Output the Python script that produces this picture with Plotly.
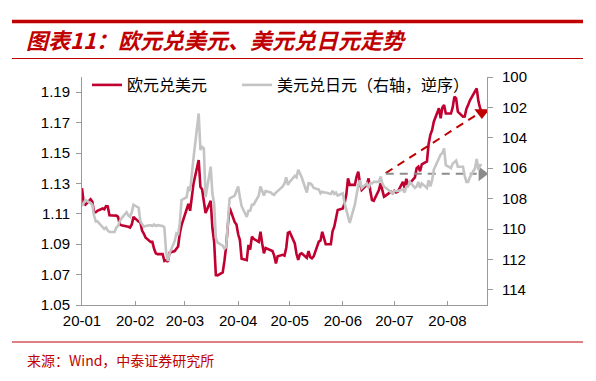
import pandas as pd
import plotly.graph_objects as go

# ---------------- data ----------------
DATES = pd.bdate_range("2020-01-01", "2020-08-21")

EURUSD = [
    # Jan
    1.1268, 1.1170, 1.1160, 1.1195, 1.1180, 1.1110, 1.1110, 1.1120, 1.1135, 1.1130,
    1.1150, 1.1148, 1.1090, 1.1090, 1.1088, 1.1080, 1.1030, 1.1025, 1.1020, 1.1015,
    1.1010, 1.1030, 1.1080,
    # Feb
    1.1048, 1.1045, 1.0990, 1.0970, 1.0945, 1.0915, 1.0915, 1.0870, 1.0840, 1.0835,
    1.0835, 1.0790, 1.0795, 1.0785, 1.0844, 1.0855, 1.0873, 1.0885, 1.0972, 1.1025,
    # Mar
    1.1130, 1.1165, 1.1120, 1.1213, 1.1300, 1.1454, 1.1278, 1.1260, 1.1180, 1.1105,
    1.1185, 1.1005, 1.0915, 1.0697, 1.0695, 1.0715, 1.0790, 1.0885, 1.1025, 1.1140,
    1.1045, 1.1030,
    # Apr
    1.0965, 1.0928, 1.0805, 1.0795, 1.0895, 1.0865, 1.0950, 1.0935, 1.0915, 1.0982,
    1.0905, 1.0840, 1.0875, 1.0860, 1.0855, 1.0825, 1.0774, 1.0820, 1.0830, 1.0825,
    1.0875, 1.0975,
    # May
    1.0980, 1.0905, 1.0835, 1.0796, 1.0835, 1.0840, 1.0810, 1.0855, 1.0815, 1.0807,
    1.0820, 1.0917, 1.0925, 1.0982, 1.0945, 1.0900, 1.0900, 1.0985, 1.1015, 1.1085,
    1.1125,
    # Jun
    1.1135, 1.1170, 1.1225, 1.1333, 1.1290, 1.1290, 1.1344, 1.1377, 1.1300, 1.1257,
    1.1290, 1.1333, 1.1250, 1.1190, 1.1185, 1.1257, 1.1300, 1.1250, 1.1213, 1.1220,
    1.1245, 1.1235,
    # Jul
    1.1250, 1.1240, 1.1245, 1.1310, 1.1270, 1.1330, 1.1290, 1.1300, 1.1340, 1.1400,
    1.1410, 1.1380, 1.1425, 1.1445, 1.1560, 1.1620, 1.1650, 1.1706, 1.1794, 1.1728,
    1.1800, 1.1816, 1.1760,
    # Aug
    1.1760, 1.1800, 1.1871, 1.1860, 1.1772, 1.1739, 1.1740, 1.1790, 1.1815, 1.1845,
    1.1905, 1.1925, 1.1840, 1.1794, 1.1772,
]

USDJPY = [
    # Jan
    108.5, 108.3, 108.1, 108.3, 108.4, 109.1, 109.5, 109.5, 109.9, 110.0,
    109.9, 110.1, 110.2, 110.2, 109.9, 109.8, 109.5, 109.3, 108.9, 109.1,
    109.2, 108.9, 108.4,
    # Feb
    108.6, 109.5, 109.7, 109.85, 109.8, 109.75, 109.8, 109.7, 109.8, 109.75,
    109.8, 109.9, 111.5, 112.1, 111.6, 110.8, 110.3, 110.4, 109.6, 108.1,
    # Mar
    107.9, 107.2, 107.5, 106.1, 105.3, 102.4, 104.8, 104.6, 104.7, 107.9,
    105.9, 107.7, 108.3, 110.6, 110.9, 111.1, 111.3, 111.2, 109.5, 108.0,
    107.8, 107.5,
    # Apr
    107.2, 107.9, 108.5, 109.2, 108.8, 108.8, 108.4, 108.4, 107.8, 107.2,
    107.5, 107.8, 107.5, 107.6, 107.7, 107.75, 107.6, 107.5, 107.2, 107.0,
    106.6, 107.1,
    # May
    106.9, 106.5, 106.6, 106.1, 106.3, 106.6, 107.6, 107.0, 107.0, 107.1,
    107.3, 107.4, 107.65, 107.55, 107.6, 107.6, 107.7, 107.5, 107.7, 107.6,
    107.8,
    # Jun
    107.65, 108.3, 108.7, 109.2, 109.6, 108.4, 107.6, 107.1, 106.8, 107.3,
    107.0, 107.3, 107.0, 107.0, 106.9, 106.9, 106.55, 107.0, 107.2, 107.3,
    107.6, 107.65,
    # Jul
    107.5, 107.5, 107.5, 107.4, 107.6, 107.2, 107.2, 106.9, 107.3, 107.2,
    106.9, 107.3, 107.0, 107.3, 106.8, 107.2, 106.8, 106.1, 105.4, 105.1,
    105.0, 104.7, 105.8,
    # Aug
    106.0, 105.7, 105.6, 105.5, 105.9, 105.9, 106.5, 106.9, 106.9, 106.6,
    106.0, 105.4, 106.1, 105.8, 105.8,
]

SERIES_NAMES = ["欧元兑美元", "美元兑日元（右轴，逆序）"]
X_TICK_DATES = ["2020-01-01", "2020-02-01", "2020-03-01", "2020-04-01",
                "2020-05-01", "2020-06-01", "2020-07-01", "2020-08-01"]
X_TICK_TEXT = ["20-01", "20-02", "20-03", "20-04", "20-05", "20-06", "20-07", "20-08"]
Y_LEFT_TICKS = [1.05, 1.07, 1.09, 1.11, 1.13, 1.15, 1.17, 1.19]
Y_RIGHT_TICKS = [100, 102, 104, 106, 108, 110, 112, 114]

# trend annotations (date, left-axis value)
RED_TREND = (["2020-06-26", "2020-08-18"], [1.1368, 1.1752])
RED_HEAD = (["2020-08-21"], [1.1766])
GRAY_TREND = (["2020-06-26", "2020-08-18"], [1.1363, 1.1363])
GRAY_HEAD = (["2020-08-21"], [1.1363])

TITLE = "图表11：欧元兑美元、美元兑日元走势"
SOURCE = "来源：Wind，中泰证券研究所"

# ---------------- style ----------------
RED = "#C00030"
DARKRED = "#C00000"
GRAY = "#C4C4C4"
AXIS = "#9A9A9A"
CJK = "Noto Sans CJK SC"
NUM = "Liberation Sans"

fig = go.Figure()
fig.add_trace(go.Scatter(x=DATES, y=EURUSD, name=SERIES_NAMES[0], mode="lines",
                         line=dict(color=RED, width=2.6), yaxis="y", legend="legend"))
fig.add_trace(go.Scatter(x=DATES, y=USDJPY, name=SERIES_NAMES[1], mode="lines",
                         line=dict(color=GRAY, width=2.6), yaxis="y2", legend="legend2"))

# dashed trend lines + arrow heads
fig.add_trace(go.Scatter(x=RED_TREND[0], y=RED_TREND[1], mode="lines", showlegend=False,
                         line=dict(color=DARKRED, width=2, dash="8px,6px"), yaxis="y"))
fig.add_trace(go.Scatter(x=RED_HEAD[0], y=RED_HEAD[1], mode="markers", showlegend=False,
                         marker=dict(symbol="triangle-down", size=13, color=DARKRED), yaxis="y"))
fig.add_trace(go.Scatter(x=GRAY_TREND[0], y=GRAY_TREND[1], mode="lines", showlegend=False,
                         line=dict(color="#8C8C8C", width=2, dash="8px,6px"), yaxis="y"))
fig.add_trace(go.Scatter(x=GRAY_HEAD[0], y=GRAY_HEAD[1], mode="markers", showlegend=False,
                         marker=dict(symbol="triangle-right", size=13, color="#8C8C8C"), yaxis="y"))

L, R, T, B = 82, 109, 77, 76
W, H = 596, 381
PW, PH = W - L - R, H - T - B


def px(x):
    return (x - L) / PW


def py(y):
    return (H - B - y) / PH


legend_common = dict(orientation="h", yanchor="top", xanchor="left", y=py(68),
                     bgcolor="rgba(0,0,0,0)", font=dict(family=CJK, size=16, color="black"),
                     itemwidth=30, tracegroupgap=0)

fig.update_layout(
    width=W, height=H,
    margin=dict(l=L, r=R, t=T, b=B, pad=0, autoexpand=False),
    paper_bgcolor="white", plot_bgcolor="white",
    font=dict(family=NUM, size=14, color="black"),
    title=dict(text=f"<b><i>{TITLE}</i></b>", x=26 / W, xanchor="left",
               y=1 - 41 / H, yanchor="middle", automargin=False,
               font=dict(family=CJK, size=22, color=DARKRED)),
    showlegend=True,
    legend=dict(x=px(87), **legend_common),
    legend2=dict(x=px(237), **legend_common),
    xaxis=dict(type="date", range=["2020-01-01", "2020-08-24"], automargin=False,
               tickvals=X_TICK_DATES, ticktext=X_TICK_TEXT,
               showgrid=False, zeroline=False,
               showline=True, linecolor=AXIS, linewidth=1,
               ticks="inside", ticklen=4, tickcolor=AXIS, ticklabelstandoff=2,
               tickfont=dict(family=NUM, size=15)),
    yaxis=dict(range=[1.05, 1.20], tickvals=Y_LEFT_TICKS, automargin=False,
               ticktext=[f"{v:.2f}" for v in Y_LEFT_TICKS],
               showgrid=False, zeroline=False,
               showline=True, linecolor=AXIS, linewidth=1,
               ticks="outside", ticklen=5, tickcolor=AXIS, ticklabelstandoff=3,
               tickfont=dict(family=NUM, size=15)),
    yaxis2=dict(range=[115, 100], overlaying="y", side="right", automargin=False,
                tickvals=Y_RIGHT_TICKS, showgrid=False, zeroline=False,
                showline=True, linecolor=AXIS, linewidth=1,
                ticks="outside", ticklen=5, tickcolor=AXIS, ticklabelstandoff=6,
                tickfont=dict(family=NUM, size=15)),
)

# decorative rules
fig.add_shape(type="line", xref="paper", yref="paper", x0=px(12), x1=px(583),
              y0=py(21.5), y1=py(21.5), line=dict(color=DARKRED, width=3.5))
fig.add_shape(type="line", xref="paper", yref="paper", x0=px(12), x1=px(583),
              y0=py(58.5), y1=py(58.5), line=dict(color=DARKRED, width=1.2))
fig.add_shape(type="line", xref="paper", yref="paper", x0=px(12), x1=px(583),
              y0=py(342), y1=py(342), line=dict(color=DARKRED, width=1.2))

fig.add_annotation(text=SOURCE, xref="paper", yref="paper", x=px(25), y=py(360),
                   xanchor="left", yanchor="middle", showarrow=False,
                   font=dict(family=CJK, size=14, color=DARKRED))

fig.write_html("out.html", config={"displayModeBar": False},
               post_script="document.body.style.margin='0';document.body.style.overflow='hidden';")
